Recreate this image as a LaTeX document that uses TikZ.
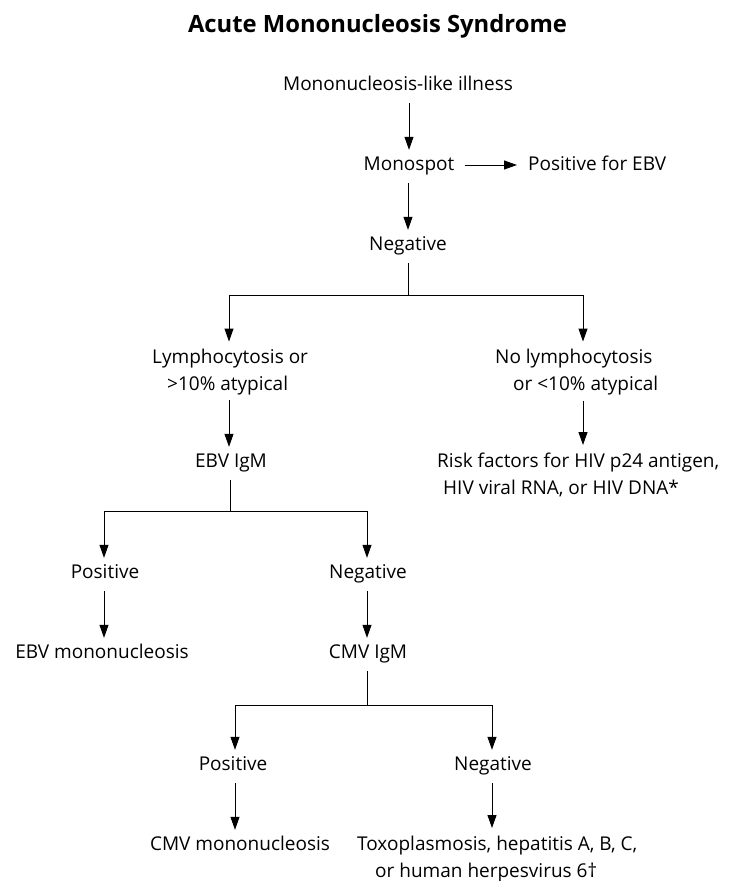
\documentclass[tikz,border=0pt]{standalone}
\usepackage{fontspec}
\setmainfont{Open Sans}
\usetikzlibrary{arrows.meta,calc}
\tikzset{
  lbl/.style={font=\fontsize{19}{27}\selectfont, inner sep=0pt, text height=14pt, text depth=4pt},
  multi/.style={font=\fontsize{19}{27}\selectfont, inner sep=0pt, align=left, anchor=north west},
  ttl/.style={font=\fontsize{23.8}{28}\selectfont\bfseries, inner sep=0pt, anchor=base},
  ln/.style={line width=1pt},
  arr/.style={ln, -{Triangle[length=13pt,width=9pt]}, shorten <=9pt, shorten >=6pt},
}
\begin{document}
\begin{tikzpicture}[x=1pt,y=-1pt]
\useasboundingbox (0,0) rectangle (748,881);
\node[ttl] (title) at (377.5,32) {Acute Mononucleosis Syndrome};
\node[lbl] (ill) at (398,85) {Mononucleosis-like illness};
\node[lbl] (mono) at (409,165) {Monospot};
\node[lbl, anchor=west] (posebv) at (528,165) {Positive for EBV};
\node[lbl] (neg) at (408,245) {Negative};
\node[multi] (lymph) at (152,348.5) {Lymphocytosis or\\\hspace*{15pt}>10\% atypical};
\node[multi] (nolymph) at (495,348.5) {No lymphocytosis\\\hspace*{18pt}or <10\% atypical};
\node[lbl] (ebvigm) at (231,462) {EBV IgM};
\node[multi] (risk) at (437,452.5) {Risk factors for HIV p24 antigen,\\\hspace*{6pt}HIV viral RNA, or HIV DNA*};
\node[lbl] (pos1) at (105,573) {Positive};
\node[lbl] (neg1) at (368,573) {Negative};
\node[lbl] (ebvmono) at (102,653) {EBV mononucleosis};
\node[lbl] (cmvigm) at (368,653) {CMV IgM};
\node[lbl] (pos2) at (233,765) {Positive};
\node[lbl] (neg2) at (493,765) {Negative};
\node[lbl] (cmvmono) at (240,845) {CMV mononucleosis};
\node[multi] (toxo) at (357,835.5) {Toxoplasmosis, hepatitis A, B, C,\\\hspace*{18pt}or human herpesvirus 6†};
% junction coordinates
\coordinate (j1) at (408,295);
\coordinate (j1l) at (229,295);
\coordinate (j1r) at (583,295);
\coordinate (j2) at (230,511);
\coordinate (j2l) at (104,511);
\coordinate (j2r) at (367,511);
\coordinate (j3) at (367,705);
\coordinate (j3l) at (235,705);
\coordinate (j3r) at (492,705);
% connectors
\draw[arr] (ill.south -| mono) -- (mono.north);
\draw[arr, shorten <=10pt, shorten >=11pt] (mono.east) -- (posebv.west);
\draw[arr] (mono.south -| neg) -- (neg.north);
\draw[ln, shorten <=9pt] (neg.south) -- (j1);
\draw[ln] (j1l) -- (j1r);
\draw[arr, shorten <=0pt, shorten >=7pt] (j1l) -- (j1l |- lymph.north);
\draw[arr, shorten <=0pt, shorten >=7pt] (j1r) -- (j1r |- nolymph.north);
\draw[arr, shorten <=5pt] (lymph.south -| j1l) -- (ebvigm.north -| j1l);
\draw[arr, shorten <=6pt, shorten >=7.5pt] (nolymph.south -| j1r) -- (risk.north -| j1r);
\draw[ln, shorten <=9pt] (ebvigm.south -| j2) -- (j2);
\draw[ln] (j2l) -- (j2r);
\draw[arr, shorten <=0pt] (j2l) -- (j2l |- pos1.north);
\draw[arr, shorten <=0pt] (j2r) -- (j2r |- neg1.north);
\draw[arr] (pos1.south -| j2l) -- (ebvmono.north -| j2l);
\draw[arr] (neg1.south -| j2r) -- (cmvigm.north -| j2r);
\draw[ln, shorten <=9pt] (cmvigm.south -| j3) -- (j3);
\draw[ln] (j3l) -- (j3r);
\draw[arr, shorten <=0pt] (j3l) -- (j3l |- pos2.north);
\draw[arr, shorten <=0pt] (j3r) -- (j3r |- neg2.north);
\draw[arr] (pos2.south -| j3l) -- (cmvmono.north -| j3l);
\draw[arr, shorten >=7.5pt] (neg2.south -| j3r) -- (toxo.north -| j3r);
\end{tikzpicture}
\end{document}
